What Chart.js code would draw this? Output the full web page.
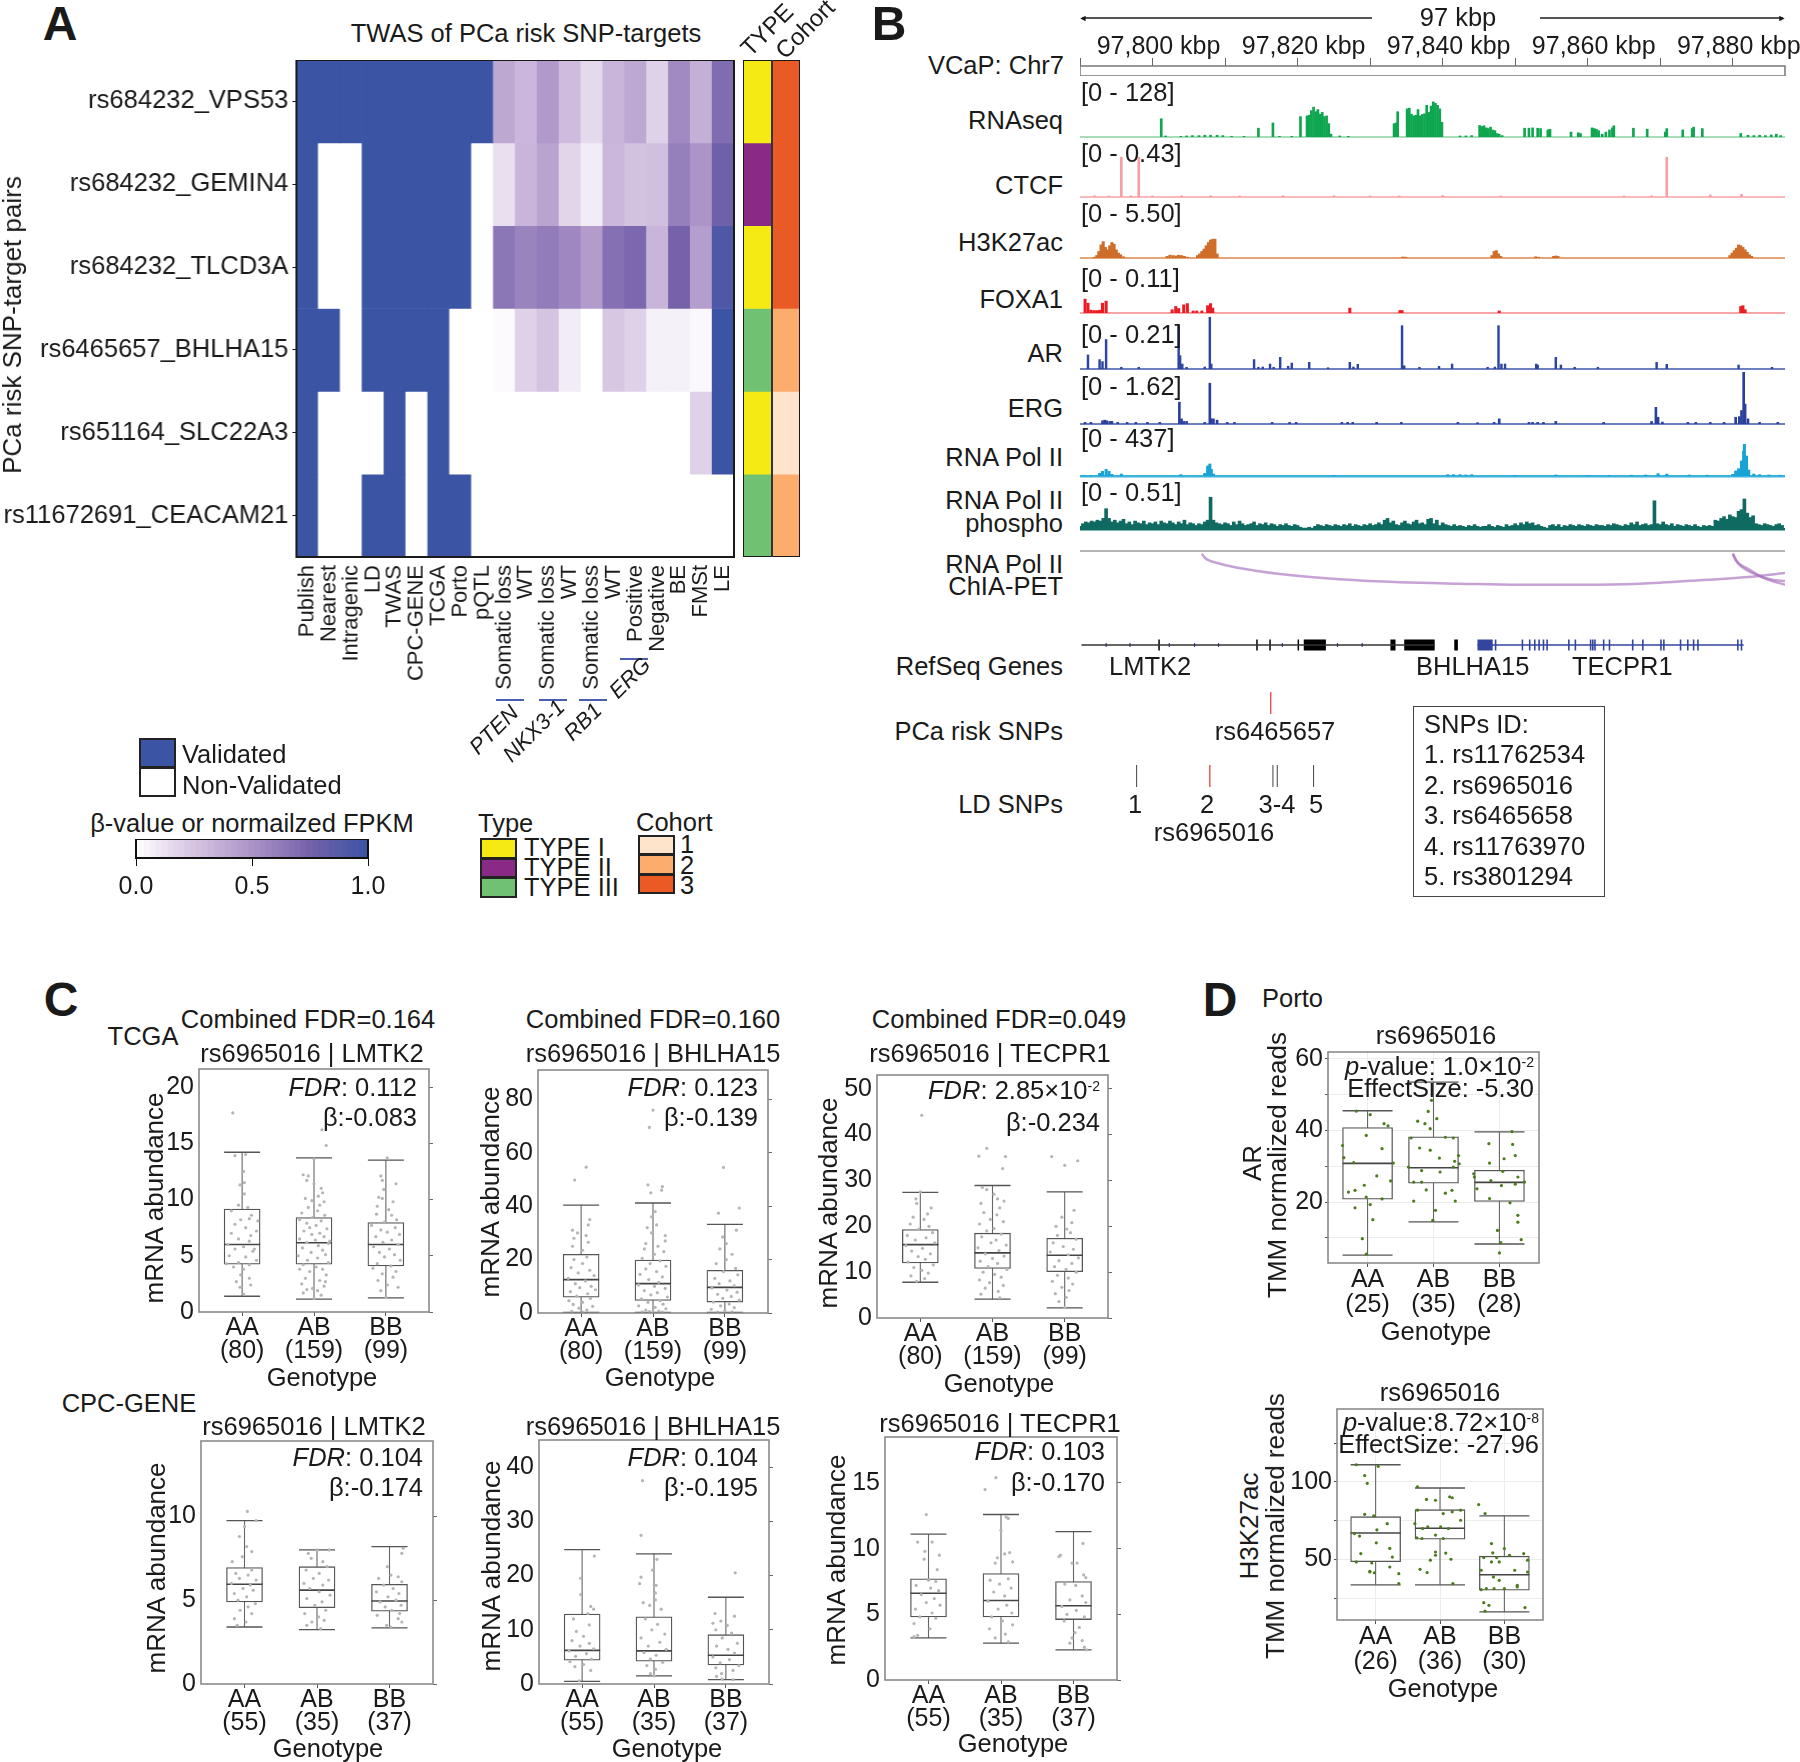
<!DOCTYPE html>
<html><head><meta charset="utf-8">
<script src="https://cdn.jsdelivr.net/npm/chart.js@4"></script>
<style>
html,body{margin:0;padding:0;background:#fff}
#stage{position:relative;width:1800px;height:1762px;overflow:hidden;font-family:"Liberation Sans",Arial,sans-serif;color:#1a1a1a}
#stage canvas{position:absolute}
.t{position:absolute;white-space:nowrap;line-height:1}
.t sup{font-size:.55em;vertical-align:.6em;line-height:0}
.r{position:absolute}
</style></head><body><div id="stage"></div>
<script>
/* ---------- Panel A data ---------- */
const heatRows=['rs684232_VPS53','rs684232_GEMIN4','rs684232_TLCD3A','rs6465657_BHLHA15','rs651164_SLC22A3','rs11672691_CEACAM21'];
const heatCols=['Publish','Nearest','Intragenic','LD','TWAS','CPC-GENE','TCGA','Porto','pQTL','Somatic loss','WT','Somatic loss','WT','Somatic loss','WT','Positive','Negative','BE','FMSt','LE'];
const heatVPS53=[1,1,1,1,1,1,1,1,1,.4,.32,.47,.3,.16,.33,.4,.2,.55,.36,.7];
const heatGEMIN4=[1,0,0,1,1,1,1,1,0,.14,.33,.42,.18,.08,.32,.27,.28,.6,.5,.78];
const heatTLCD3A=[1,0,0,1,1,1,1,1,0,.65,.58,.62,.56,.46,.68,.72,.33,.75,.45,.92];
const heatBHLHA15=[1,1,0,1,1,1,1,0,0,.02,.2,.26,.08,0,.24,.2,.06,.06,.03,1];
const heatSLC22A3=[1,0,0,0,1,0,1,0,0,0,0,0,0,0,0,0,0,0,.2,1];
const heatCEACAM21=[1,0,0,1,1,0,1,1,0,0,0,0,0,0,0,0,0,0,0,0];
const sideCols=['TYPE','Cohort'];
const typeRows=[1,2,1,3,1,3];
const cohortRows=[3,3,3,2,1,2];
const typeColors=['#f5ea14','#8a2a87','#70c172'];
const cohortColors=['#fde4cb','#fcac6d','#ea5a24'];
const colorbarTicks=[0,.5,1];
/* ---------- Panel B data: [kb after 97,700, signal] ---------- */
const rnaseqTrack=[[101.2,52],[101.8,3],[103.9,2],[104.7,3],[105.5,4],[106.4,4],[107.2,5],[108,5],[108.9,5],[109.7,4],[110.9,2],[112.6,2],[114.6,25],[116.6,40],[117.5,2],[119.2,2],[120.4,58],[121.3,60],[121.6,62],[121.9,75],[122.2,85],[122.5,72],[122.8,78],[123.1,65],[123.4,70],[123.7,58],[124,60],[124.3,38],[124.6,8],[125.8,3],[127,2],[133.3,38],[133.6,40],[133.8,72],[135.1,80],[135.4,82],[135.7,65],[136,60],[136.3,62],[136.6,78],[136.9,60],[137.2,64],[137.5,66],[137.8,90],[138.1,70],[138.4,88],[138.7,100],[139,96],[139.3,90],[139.6,80],[139.9,42],[142.4,3],[143.2,3],[144,4],[145.1,33],[145.4,30],[145.7,32],[146,26],[146.3,24],[146.6,28],[146.9,20],[147.2,18],[147.5,10],[147.8,8],[148.2,4],[151.3,25],[151.9,25],[152.4,26],[153.1,25],[153.5,24],[154.5,20],[154.8,22],[157.7,14],[158.7,12],[159,10],[160.6,26],[160.9,24],[161.2,22],[161.5,18],[162,8],[162.5,14],[163,20],[163.4,26],[163.6,32],[166.3,25],[168.2,22],[170.7,14],[170.9,24],[173.1,20],[174.4,24],[174.6,28],[175.8,24],[181.1,10],[182.1,5],[182.9,4],[183.7,5],[184.5,4],[185.3,6],[186,8],[186.6,4]];
const ctcfTrack=[[92,.012],[94,.01],[95.7,.38],[97,.012],[98.1,.38],[100,.01],[104,.012],[108,.012],[112,.01],[118,.012],[125,.012],[130,.01],[134,.01],[140,.014],[148,.01],[165,.01],[168.8,.012],[170.9,.38],[176.9,.02],[181.2,.025]];
const h3k27acTrack=[[92,.1],[92.3,.3],[92.6,.8],[92.9,1.6],[93.2,2],[93.5,1.3],[93.8,1],[94.1,1.5],[94.4,1.9],[94.7,1.7],[95,1],[95.3,.6],[95.6,.4],[96,.15],[102,.2],[102.4,.35],[102.8,.3],[103.2,.25],[103.6,.35],[104,.3],[104.4,.2],[104.8,.1],[106.2,.3],[106.5,.5],[106.8,.8],[107.1,1.1],[107.4,1.5],[107.7,1.9],[108,2.2],[108.3,2.3],[108.6,2.3],[108.9,.5],[134.5,.12],[134.9,.1],[146.8,.3],[147.1,.8],[147.4,.9],[147.7,.5],[148,.2],[152.8,.15],[153.2,.1],[155.3,.2],[155.6,.25],[155.9,.2],[179.6,.3],[179.9,.6],[180.2,.9],[180.5,1.2],[180.8,1.6],[181.1,1.5],[181.4,1.3],[181.7,1],[182,.7],[182.3,.4],[182.6,.2]];
const foxa1Track=[[90.7,.034],[91.1,.024],[91.5,.007],[91.9,.006],[92.3,.006],[92.7,.007],[93.1,.024],[93.6,.029],[102.7,.008],[103.2,.016],[103.6,.011],[104.3,.02],[104.8,.023],[105.6,.005],[106.1,.005],[106.8,.005],[107.6,.018],[108,.023],[108.3,.012],[127.2,.012],[134.1,.006],[134.4,.006],[147.8,.005],[181.1,.016],[181.4,.018],[181.7,.008]];
const arTrack=[[91.1,.057],[92.7,.038],[93.1,.03],[93.6,.119],[95.7,.007],[98.1,.007],[103.6,.175],[103.8,.054],[104.1,.02],[104.7,.007],[107.2,.008],[107.9,.21],[108.1,.02],[114,.038],[114.6,.007],[115.2,.008],[116.2,.02],[116.7,.007],[117.6,.047],[118.7,.011],[119.2,.024],[121.6,.027],[124.2,.005],[127.2,.027],[127.7,.008],[128.3,.019],[134.4,.175],[134.7,.013],[136.8,.007],[139.5,.011],[141.3,.02],[146.2,.007],[147.2,.008],[147.7,.175],[148.1,.02],[148.6,.02],[152.9,.02],[153.1,.016],[155.6,.047],[156.3,.016],[158.2,.007],[161.4,.007],[169.5,.027],[170.9,.019],[180.8,.016],[185.4,.007]];
const ergTrack=[[90.7,.05],[91.5,.05],[93.1,.1],[93.4,.12],[93.7,.1],[94.1,.08],[94.4,.08],[95.2,.05],[96.5,.05],[97.7,.05],[99.3,.05],[101,.05],[103.7,.68],[104,.16],[104.3,.08],[104.7,.08],[107.2,.05],[107.9,1.27],[108.1,.16],[108.4,.16],[108.9,.12],[110.3,.05],[111.3,.05],[116.5,.05],[118.9,.05],[119.8,.05],[126.1,.05],[126.9,.05],[127.6,.05],[130.9,.05],[134.3,.05],[142.1,.05],[144.8,.04],[147.1,.05],[147.8,.16],[151.9,.05],[152.4,.05],[153.1,.05],[153.9,.05],[155.6,.08],[162.2,.05],[168.8,.08],[169.4,.52],[169.7,.21],[170.3,.06],[173.8,.05],[174.9,.05],[176.9,.05],[178.8,.05],[180.4,.21],[180.9,.23],[181.2,.42],[181.5,1.62],[181.7,.62],[182.1,.16],[183.7,.05],[186.2,.05]];
const polIITrack=[[90.5,6],[91.5,6],[92.7,26],[93.1,45],[93.6,65],[94,45],[94.4,16],[95.7,19],[103.9,13],[107.2,26],[107.6,97],[107.9,117],[108.1,65],[108.4,19],[125,6],[140.7,13],[141.5,13],[142.4,13],[143.2,10],[144,13],[150,6],[155.6,10],[160,6],[163,6],[166,8],[168,10],[169.7,23],[170.9,19],[174,10],[176.5,8],[180,16],[180.4,49],[180.8,71],[181.2,146],[181.5,243],[181.6,308],[181.9,194],[182.2,58],[182.9,19],[183.7,13],[185,10],[186.5,8]];
const phosphoTrack=[.03,.06,.08,.07,.09,.08,.1,.09,.12,.23,.12,.08,.1,.07,.09,.11,.06,.08,.05,.09,.07,.06,.09,.05,.07,.06,.08,.05,.09,.07,.06,.09,.07,.05,.08,.06,.1,.05,.07,.06,.04,.06,.05,.08,.1,.36,.1,.07,.06,.05,.07,.06,.04,.08,.05,.09,.06,.04,.05,.06,.08,.04,.06,.05,.07,.04,.06,.05,.03,.05,.04,.06,.04,.03,.05,.04,.02,.01,.01,.02,.01,.03,.05,.04,.03,.05,.04,.03,.05,.04,.03,.05,.04,.06,.03,.05,.04,.03,.05,.04,.06,.04,.05,.07,.05,.1,.12,.07,.09,.05,.04,.07,.09,.06,.05,.08,.1,.06,.07,.05,.11,.12,.06,.1,.04,.07,.05,.04,.03,.05,.03,.04,.03,.02,.04,.03,.05,.03,.02,.03,.03,.05,.03,.02,.04,.03,.02,.05,.03,.04,.06,.04,.07,.05,.08,.06,.07,.04,.05,.03,.02,.01,.04,.05,.03,.05,.02,.04,.03,.05,.04,.03,.05,.04,.03,.05,.04,.03,.05,.04,.04,.03,.05,.04,.06,.05,.04,.03,.05,.04,.07,.05,.08,.04,.05,.06,.04,.05,.32,.06,.05,.08,.05,.04,.06,.03,.05,.04,.03,.05,.04,.03,.05,.03,.02,.04,.03,.04,.03,.1,.09,.12,.14,.11,.16,.14,.13,.2,.22,.34,.18,.13,.15,.06,.05,.04,.06,.05,.04,.03,.05,.06,.04];
const chiaArcA=[[106.8,2.7],[107.2,6.7],[109.3,12.7],[113.4,18.7],[119.2,24.3],[125.8,28.3],[134.1,31.3],[142.4,32.7],[150.6,33.7],[158.9,33.7],[167.2,32.7],[175.4,29.3],[182.1,26],[187.2,22]];
const chiaArcB=[[180,2.7],[180.4,9.3],[182.1,17.7],[184.5,27.7],[187.2,33.7]];
const chiaArcC=[[180,2.7],[180.8,12.7],[182.9,22.7],[185.4,28.7],[187.2,30]];
const lmtk2Span=[90.2,138.9];
const lmtk2Thin=[100.9,114.4,116.2,120.1];
const lmtk2Wide=[[120.85,123.9],[132.8,133.5],[134.7,138.9],[141.6,142.1]];
const lmtk2Chevrons=[93.6,96.9,102.3,105.8,109.1,117.9,125.5,128.9];
const tecpr1Span=[144.8,181.5];
const tecpr1Thin=[147.3,151,152,152.7,153.3,153.9,154.4,157.4,158.3,160.4,160.7,161,162.2,163,166.2,167.6,170.1,170.5,172.8,173.8,174.6,175.2,180.7,181.2];
const tecpr1Wide=[[144.8,146.9]];
const riskSnp=[116.3];
const ldSnpGrey=[97.8,116.6,117.2,122.2];
const ldSnpRed=[107.9];
/* ---------- Panels C/D data ---------- */
const genotypes=['AA','AB','BB'];
const tcgaCounts=[80,159,99], cpcCounts=[55,35,37], portoArCounts=[25,35,28], portoH3Counts=[26,36,30];
/* each box: [low whisker, q1, median, q3, high whisker] */
const c1Stats=[[1.4,4.25,6,9.15,14.2],[1.15,4.25,6.15,8.4,13.7],[1.25,4.1,6,7.95,13.5]];
const c2Stats=[[.2,5.9,12.5,22,40.4],[.2,4.7,11,19.8,41.2],[.2,4.1,9.6,16,33.2]];
const c3Stats=[[7.8,12,16,19.3,27.4],[4.1,10.8,14.2,18.5,28.9],[2.2,10.1,13.7,17.4,27.5]];
const c4Stats=[[3.4,4.9,5.95,6.95,9.75],[3.25,4.55,5.6,7,8],[3.35,4.35,4.95,5.95,8.2]];
const c5Stats=[[.5,4.4,6.2,12.9,24.8],[1.5,4.2,6.1,12.4,24],[.8,3.5,5.3,9.1,16]];
const c6Stats=[[3.2,4.8,6.6,7.7,11.1],[2.8,4.8,6.05,8.1,12.6],[2.3,4.6,5.65,7.5,11.3]];
const d1Stats=[[5.2,20.8,30.8,40.8,45.5],[14.5,25.3,29.6,38.2,53.5],[8.3,20.2,25.5,28.9,39.6]];
const d2Stats=[[33.5,48.5,67,77.5,111],[33.5,63,70,82,96],[16,30,40,52,78]];
/* jitter points: [offset from box centre, value] */
const c1AA=[[-.13,17.7],[-.1,13.9],[.05,14],[.02,12.5],[.03,11.5],[-.03,11.3],[.03,10.5],[-.05,9.5],[.13,8.6],[.1,8.3],[-.02,8.2],[-.1,7.8],[.05,7.5],[.2,7.2],[-.15,7],[.12,6.8],[-.05,6.5],[.1,6.3],[-.2,6],[.02,5.8],[-.1,5.6],[.15,5.4],[-.18,5],[.05,4.9],[.2,4.6],[-.05,4.4],[.1,4.2],[-.12,4],[.02,3.8],[-.02,3.3],[.1,3],[-.08,2.7],[.12,2.4],[-.03,2.2],[.02,1.6],[-.15,9],[.17,5.6],[-.22,4.3],[.22,8.1],[.08,9.3]];
const c1AB=[[.11,16.2],[.17,14.8],[0,13.6],[-.15,12.2],[-.08,12.1],[-.1,11.7],[0,11.4],[.1,11],[.12,10.6],[.06,10.3],[-.12,10.1],[-.03,9.9],[.14,9.8],[.08,9.5],[-.08,9.3],[.05,9],[-.17,8.8],[.15,8.6],[-.02,8.4],[-.2,8.2],[.1,8.1],[-.1,7.9],[.03,7.7],[-.06,7.5],[.18,7.4],[-.14,7.2],[.08,7],[-.03,6.9],[.14,6.7],[-.2,6.5],[.02,6.4],[-.1,6.2],[.2,6.1],[.06,5.9],[-.16,5.7],[.12,5.5],[-.04,5.3],[.16,5.1],[-.22,5],[.05,4.8],[-.09,4.6],[.2,4.4],[-.15,4.2],[.03,4],[.12,3.8],[-.06,3.6],[.17,3.3],[-.12,3],[.08,2.8],[-.17,2.5],[.14,2.3],[-.02,2.1],[.05,1.9],[-.15,1.7],[.1,1.5],[0,1.2],[-.1,2],[.16,2.7],[-.2,3.8],[.22,6.3]];
const c1BB=[[.02,13.7],[-.07,12.1],[-.05,11.7],[.14,11.4],[-.03,10.9],[-.1,10.2],[-.05,10.1],[.1,9.8],[-.12,9.4],[.04,9.1],[-.13,8.7],[.08,8.6],[.15,8.2],[-.02,8],[-.2,7.7],[.13,7.5],[-.07,7.3],[.02,7.1],[.19,6.9],[-.14,6.7],[.08,6.4],[-.04,6.2],[.17,6],[-.17,5.8],[.05,5.6],[-.09,5.3],[.12,5.1],[-.02,4.9],[.2,4.6],[-.12,4.3],[.07,4.1],[-.18,3.9],[.14,3.6],[-.05,3.4],[.1,3.1],[-.11,2.8],[.02,2.4],[.17,2.2],[-.07,1.9],[0,1.3]];
const c2AA=[[.07,54.6],[-.09,49.8],[.12,35],[.1,33],[-.12,31],[-.05,30],[.07,29],[-.1,28],[.1,26.5],[-.12,25],[.02,23.5],[.08,21],[-.1,20],[.02,18.5],[-.14,17],[.12,16],[-.04,15],[.18,14],[-.18,13],[.06,12],[-.08,11],[.14,10],[-.02,9.5],[.2,8.7],[-.15,8],[.09,7.2],[-.06,6.3],[.13,5.5],[-.17,4.6],[.02,4],[-.11,3.2],[.16,2.5],[-.03,1.8],[.08,1.1],[-.13,.6],[.02,.3]];
const c2AB=[[0,76],[-.05,69.5],[-.07,48],[.13,47.3],[.12,46],[-.03,45],[.03,38],[-.02,36],[.05,33],[-.08,32],[-.02,30],[.17,29],[.17,27],[-.1,26],[.07,25],[-.12,24],[.15,23],[.02,22],[-.15,20.5],[.1,19.5],[-.04,18.5],[.18,17.5],[-.1,16.5],[.05,15.5],[-.18,14.5],[.13,13.5],[-.06,12.5],[.08,11.5],[-.2,10.5],[.02,10],[.17,9.2],[-.12,8.4],[.06,7.6],[-.03,6.8],[.2,6],[-.16,5.3],[.1,4.6],[-.07,4],[.14,3.3],[-.2,2.7],[.03,2.1],[.18,1.6],[-.1,1.1],[.08,.7],[-.15,.4],[0,.2],[.13,.3],[-.05,.5]];
const c2BB=[[-.02,54.5],[.2,39.3],[-.09,37.4],[.16,31],[-.03,28.5],[.02,26],[-.07,24],[.1,22],[.02,20],[-.12,18.5],[.15,16.7],[-.02,15.5],[.18,14.3],[-.14,13],[.07,12],[-.08,11],[.13,10.2],[-.18,9.4],[.03,8.6],[.17,7.8],[-.1,7],[.09,6.2],[-.03,5.5],[.2,4.8],[-.16,4.1],[.06,3.4],[-.06,2.7],[.13,2],[-.19,1.4],[0,.9],[.1,.4],[-.1,.3]];
const c3AA=[[.02,44.2],[0,27.5],[-.06,26],[-.05,25],[.15,24],[.1,22.7],[-.1,22],[.05,21.5],[-.14,20.5],[.12,20],[-.02,19.4],[.17,18.6],[-.18,18],[.08,17.5],[-.07,17],[.2,16.4],[-.2,15.8],[.03,15.2],[-.12,14.6],[.14,14],[-.03,13.4],[.07,12.8],[-.17,12.2],[.18,11.6],[-.09,11],[.02,10.4],[.11,9.8],[-.13,9.2],[.06,8.6],[-.05,8]];
const c3AB=[[-.08,37],[-.19,35.3],[.18,35.2],[.14,32.6],[-.14,28.5],[-.08,28],[.02,27],[.07,26],[.16,25.5],[-.16,25],[.1,24],[-.12,23],[.06,22.5],[-.03,21.5],[.15,21],[-.18,20.5],[.02,19.5],[-.08,19],[.12,18.3],[-.15,17.7],[.05,17],[-.02,16.4],[.19,15.9],[-.2,15.3],[.09,14.7],[-.1,14],[.16,13.5],[0,13],[-.17,12.4],[.07,11.9],[-.06,11.2],[.2,10.6],[-.13,10],[.03,9.5],[.12,8.9],[-.18,8.3],[-.04,7.7],[.15,7.1],[-.1,6.5],[.08,5.8],[-.16,5.2],[.1,4.4]];
const c3BB=[[-.18,35.2],[0,33.3],[.18,34.3],[.13,23.5],[-.04,22],[.1,20.8],[-.12,20],[.03,19.4],[.08,18.6],[-.1,18],[.16,17.2],[-.16,16.4],[-.02,15.6],[.12,15],[-.2,14.4],[.05,13.8],[.19,13.1],[-.08,12.5],[.1,11.9],[-.14,11.2],[.02,10.6],[.16,10],[-.1,9.3],[.05,8.7],[-.17,8],[.11,7.4],[-.04,6.7],[.06,6],[-.13,5.3],[.02,4.5],[-.08,3.6],[0,2.3]];
const c4AA=[[.04,10.3],[.0,9.4],[.16,9.75],[-.07,8.8],[.03,8.2],[.1,7.9],[-.03,7.6],[-.17,7.3],[.1,6.8],[-.12,6.6],[.05,6.5],[-.07,6.3],[.16,6.2],[-.18,6],[.08,5.9],[-.02,5.7],[.12,5.6],[-.14,5.4],[.03,5.2],[-.09,5],[.15,4.8],[.05,4.6],[-.06,4.4],[.1,4.2],[-.14,3.9],[.02,3.7],[-.1,3.5]];
const c4AB=[[.0,8],[.17,8],[-.12,7.8],[-.08,7.5],[.08,7.3],[.14,7],[-.15,6.8],[.03,6.6],[-.05,6.3],[.16,6.2],[-.18,6],[.08,5.9],[-.1,5.7],[.03,5.5],[.18,5.3],[-.14,5.1],[.07,4.9],[-.03,4.7],[.12,4.4],[-.17,4.2],[.02,4],[.1,3.8],[-.07,3.7],[-.14,3.5],[.05,3.3]];
const c4BB=[[.19,8.1],[.17,7.8],[-.03,7],[.02,6.5],[.12,6.4],[-.15,6.3],[.17,6.1],[-.08,5.9],[.05,5.7],[-.18,5.5],[.13,5.4],[-.02,5.2],[.09,5],[-.13,4.9],[.16,4.7],[-.06,4.6],[.03,4.4],[.14,4.2],[-.17,4.1],[.12,3.9],[.17,3.7],[-.04,3.5],[.02,3.4]];
const c5AA=[[-.02,19.5],[-.02,16.5],[.17,23.6],[.12,14.3],[.16,13.8],[.08,13],[-.12,12],[.1,10.9],[-.08,9.7],[.02,8.8],[-.14,8],[.1,7.5],[-.03,7],[.16,6.5],[-.18,6.1],[.06,5.6],[-.09,5.1],[.13,4.6],[-.17,4.1],[.02,3.6],[-.1,3.2],[.12,2.5],[-.04,.6]];
const c5AB=[[-.16,37.5],[-.18,27.4],[.04,23],[-.02,21],[-.18,19.7],[-.2,18.5],[.03,18.2],[.02,16.8],[.02,15.5],[-.15,15],[-.06,14.5],[.1,13.8],[-.12,12],[.05,11],[-.03,10],[.15,9.2],[-.18,8.5],[.08,7.7],[-.08,7],[.17,6.4],[-.14,5.8],[.03,5.3],[-.05,4.6],[.12,4],[-.1,3.4],[.02,2.7],[-.05,1.9],[0,1.5]];
const c5BB=[[.13,20.5],[.12,12.5],[-.15,13],[-.07,11.6],[-.18,11.2],[.02,10.8],[-.14,10],[.08,9.4],[-.05,8.5],[.16,7.5],[-.13,7],[.03,6.4],[.12,5.7],[-.18,5],[.05,4.5],[-.08,3.9],[.18,3.4],[-.14,3],[.1,2.5],[-.06,1.9],[-.13,1.4],[-.05,.9],[.1,.8]];
const c6AA=[[-.03,12.6],[-.15,10.5],[.05,10.5],[-.05,9.8],[.15,9.5],[-.06,9.2],[.12,8.4],[.0,7.6],[.1,7.5],[-.17,7.2],[.03,7],[.14,6.8],[-.1,6.5],[.08,6.2],[-.03,5.9],[.16,5.7],[-.18,5.4],[.05,5.1],[-.12,4.8],[.1,4.7],[-.2,4.3],[.02,3.9],[-.15,3.4],[-.2,3.3]];
const c6AB=[[-.07,15.4],[-.22,14.5],[.07,12.4],[.1,12.3],[.0,11.4],[.12,9.7],[.05,9.6],[-.05,9.3],[.16,9],[-.08,8.9],[.1,7.7],[-.15,7.6],[-.02,7.3],[.14,7],[-.1,6.7],[.05,6.4],[-.18,6],[.08,5.7],[-.04,5.4],[.15,5.1],[-.13,4.8],[.02,4.5],[.16,4.2],[-.16,3.9],[.06,3.5],[-.08,3.2],[.1,2.9]];
const c6BB=[[-.18,9.5],[-.2,9.4],[-.02,8.9],[.05,8.9],[.13,10.4],[.14,8],[.17,7.8],[-.12,7.3],[.03,7.2],[.12,6.4],[-.05,6.1],[.17,5.9],[-.16,5.6],[.04,5.3],[-.09,5],[.15,4.8],[-.13,4.5],[.08,4],[.02,3.6],[-.02,3.2],[.12,3],[-.05,2.8],[.15,2.5],[.18,2.3]];
const d1AA=[[-.17,45.4],[.04,44.4],[.25,41.9],[.31,41.3],[-.02,38.6],[-.38,35.8],[.22,34.9],[-.36,32.4],[-.21,31],[.39,30.9],[.14,27.3],[.35,25.9],[-.05,24.7],[-.19,23.3],[-.29,22.8],[-.02,21.4],[.22,20.9],[-.19,18.4],[.04,19.3],[.08,15.1],[-.08,9.8],[-.02,5.5]];
const d1AB=[[-.24,42.6],[-.08,45.3],[-.13,41.9],[-.05,40.5],[.05,43.3],[-.03,48.4],[-.34,37.9],[.18,38.1],[.3,37.9],[-.21,35.1],[-.05,34.5],[.09,32.3],[.38,33],[.32,31.4],[-.38,29.8],[-.18,28.8],[.1,28.4],[.39,30.7],[.3,29.8],[-.3,25.6],[-.18,25.6],[-.11,23.4],[.18,22.5],[.28,23.3],[.33,20.3],[-.3,20.3],[.03,17.7],[-.01,14.9]];
const d1BB=[[.19,39.7],[-.16,36.3],[.2,36.1],[.24,33],[-.15,30.9],[.07,32.1],[-.39,27.9],[-.38,27],[.05,28.6],[.28,27],[-.13,26],[.03,24.6],[.24,25],[.38,25.6],[-.34,23.7],[-.15,21],[.16,19.8],[.28,16.3],[.28,14.4],[-.03,12.1],[.33,9.5],[.02,8.7],[0,5.8]];
const d2AA=[[-.3,111],[.04,110],[-.17,104],[-.13,99],[-.03,78],[-.17,79],[.18,73],[.02,69],[-.25,65],[.01,60.6],[.22,57],[-.23,53.7],[.26,51.4],[-.3,48.3],[-.06,47.6],[.22,45],[-.09,42.2],[-.02,41.3],[.36,40.7],[.36,34.3],[-.09,41.8],[-.33,66.6]];
const d2AB=[[-.35,96.8],[-.21,88.6],[-.07,88.1],[.15,90.3],[.19,89.7],[-.35,81.7],[.05,79.5],[.19,80.6],[.32,81.7],[-.39,73],[-.27,69.8],[-.19,70.9],[.01,70.9],[.13,69.8],[.32,75.2],[-.07,65.6],[.05,63.4],[-.36,63.9],[-.28,63.4],[.09,54],[-.15,49.4],[-.07,52.6],[.17,50],[-.31,43.5],[-.2,41.4],[.2,34.3],[-.07,54.7]];
const d2BB=[[-.4,85.3],[-.3,79.5],[-.2,60.1],[0,56.9],[-.18,54.1],[-.32,51.1],[-.12,51.1],[.08,52.6],[.3,53.7],[-.2,48.3],[-.08,48.3],[.36,49.4],[-.36,42.9],[.16,42.9],[-.17,38.6],[-.08,36.4],[.2,33.2],[-.28,31],[-.16,31],[0,31],[-.36,30.4],[-.32,22],[-.24,20.3],[.32,18.8],[-.3,16.5],[.2,32.1],[.36,41.8]];

/* ---------- helpers ---------- */
const FONT='"Liberation Sans",Arial,sans-serif';
const stage=document.getElementById('stage');
Chart.defaults.font.family=FONT; Chart.defaults.color='#1a1a1a';
Chart.defaults.animation=false; Chart.defaults.devicePixelRatio=1;
Chart.register({id:'frame',afterDatasetsDraw(c,a,o){if(!o.color)return;const r=c.chartArea,x=c.ctx;x.save();x.strokeStyle=o.color;x.lineWidth=o.width||1.5;x.strokeRect(r.left,r.top,r.width,r.height);x.restore();}});
/* fixes an axis' thickness and drops the label overhang padding */
const fit=(prop,val)=>a=>{a[prop]=val;a.paddingTop=a.paddingBottom=a.paddingLeft=a.paddingRight=0;};
function T(s,x,y,o={}){const d=document.createElement('div');d.className='t';d.innerHTML=s;
 const a=o.a||'c',tx=a==='l'?'0':a==='r'?'-100%':'-50%';
 d.style.cssText=`left:${x}px;top:${y+1}px;font-size:${o.s||25.5}px;font-weight:${o.b?'bold':'normal'};font-style:${o.i?'italic':'normal'};transform:translate(${tx},-50%) rotate(${o.r||0}deg)`;
 stage.appendChild(d);}
function R(x,y,w,h,st){const d=document.createElement('div');d.className='r';d.style.cssText=`left:${x}px;top:${y}px;width:${w}px;height:${h}px;box-sizing:border-box;${st||''}`;stage.appendChild(d);}
function place(px,py,pw,ph,m,cfg){const c=document.createElement('canvas');const W=m.l+pw+(m.r||0),H=(m.t||0)+ph+m.b;
 c.width=W;c.height=H;c.style.left=(px-m.l)+'px';c.style.top=(py-(m.t||0))+'px';c.style.width=W+'px';c.style.height=H+'px';stage.appendChild(c);
 cfg.options=Object.assign({responsive:false,maintainAspectRatio:false,layout:{autoPadding:false,padding:{top:m.pt||0,right:m.pr||0,left:m.pl||0,bottom:m.pb||0}}},cfg.options||{});
 cfg.options.plugins=Object.assign({legend:{display:false},tooltip:{enabled:false},title:{display:false}},cfg.options.plugins||{});
 return new Chart(c,cfg);}
const lerp=(a,b,t)=>Math.round(a+(b-a)*t);
const cmapStops=[[0,[255,255,255]],[.25,[214,197,226]],[.5,[172,148,200]],[.75,[117,98,170]],[1,[59,84,164]]];
function cmap(v){for(let i=1;i<cmapStops.length;i++){if(v<=cmapStops[i][0]){const [a,ca]=cmapStops[i-1],[b,cb]=cmapStops[i],t=(v-a)/(b-a);return `rgb(${lerp(ca[0],cb[0],t)},${lerp(ca[1],cb[1],t)},${lerp(ca[2],cb[2],t)})`;}}return 'rgb(59,84,164)';}

/* ---------- Panel A ---------- */
const heatMatrix=[heatVPS53,heatGEMIN4,heatTLCD3A,heatBHLHA15,heatSLC22A3,heatCEACAM21];
place(296,60,437.5,497,{l:296,r:2,b:190,pr:2},{type:'bar',data:{labels:heatCols,datasets:heatMatrix.map(r=>({data:r.map(()=>1),backgroundColor:r.map(cmap),borderWidth:0,barPercentage:1,categoryPercentage:1,stack:'s'}))},
 options:{plugins:{frame:{color:'#1a1a1a',width:2}},scales:{
  x:{stacked:true,grid:{display:false},border:{display:false},afterFit:fit('height',190),ticks:{autoSkip:false,minRotation:90,maxRotation:90,padding:0,font:{size:22},color:'#1a1a1a'}},
  y:{stacked:true,reverse:true,min:0,max:6,afterFit:fit('width',296),afterBuildTicks(a){a.ticks=heatRows.map((_,i)=>({value:i+.5}));},grid:{drawOnChartArea:false,tickLength:4,color:'#1a1a1a'},border:{display:false},ticks:{autoSkip:false,padding:4,font:{size:25.5},color:'#1a1a1a',callback:v=>heatRows[Math.floor(v)]}}}}});
place(743,60,57,497,{l:0,b:0},{type:'bar',data:{labels:sideCols,datasets:typeRows.map((t,i)=>({data:[1,1],backgroundColor:[typeColors[t-1],cohortColors[cohortRows[i]-1]],borderWidth:0,barPercentage:1,categoryPercentage:1,stack:'s'}))},
 options:{plugins:{frame:{color:'#1a1a1a',width:2}},scales:{x:{stacked:true,display:false},y:{stacked:true,reverse:true,min:0,max:6,display:false}}}});
R(771,60,1.5,497,'background:#333');
T('A',60,23,{s:48,b:1});
T('TWAS of PCa risk SNP-targets',526,33);
T('TYPE',767,29,{s:24,r:-45});T('Cohort',805,28,{s:24,r:-45});
T('PCa risk SNP-target pairs',12,324,{s:26,r:-90});
[[496,699],[539,699],[579,699],[620,658]].forEach(p=>R(p[0],p[1],28,2,'background:#4a5fb0'));
T('PTEN',494,729,{s:22,i:1,r:-45});T('NKX3-1',534,730,{s:22,i:1,r:-45});T('RB1',583,721,{s:22,i:1,r:-45});T('ERG',630,677,{s:22,i:1,r:-45});
R(139,738,37,30,'background:#3b54a4;border:2px solid #222');R(139,767,37,30,'background:#fff;border:2px solid #222');
T('Validated',182,754,{a:'l'});T('Non-Validated',182,785,{a:'l'});
T('β-value or normailzed FPKM',252,823);
const cbStops=Array.from({length:41},(_,i)=>i/40);
place(136,839,232,19,{l:20,r:30,b:48,pl:20,pr:30},{type:'bar',data:{datasets:[{data:cbStops.map(v=>({x:v,y:1})),backgroundColor:cbStops.map(cmap),barThickness:6.5,borderWidth:0}]},
 options:{plugins:{frame:{color:'#111',width:2}},scales:{x:{type:'linear',offset:false,min:0,max:1,afterFit:fit('height',48),afterBuildTicks(a){a.ticks=colorbarTicks.map(v=>({value:v}));},grid:{drawOnChartArea:false,offset:false,tickLength:8,color:'#111'},border:{display:false},ticks:{font:{size:25},padding:6,color:'#1a1a1a',callback:v=>v.toFixed(1)}},y:{min:0,max:1,display:false}}}});
T('Type',478,823,{a:'l'});T('Cohort',636,822,{a:'l'});
typeColors.forEach((c,i)=>R(480,838+i*19.5,37,20.5,`background:${c};border:2px solid #222`));
['TYPE I','TYPE II','TYPE III'].forEach((s,i)=>T(s,524,847+i*20,{a:'l'}));
cohortColors.forEach((c,i)=>R(638,835+i*19.3,37,20.3,`background:${c};border:2px solid #222`));
['1','2','3'].forEach((s,i)=>T(s,680,844+i*20.5,{a:'l'}));

/* ---------- Panel B ---------- */
const kbAxis=(color,width)=>({type:'linear',offset:false,min:90,max:187.2,afterFit:fit('height',2),grid:{display:false},ticks:{display:false},border:{display:!!color,color:color||'#000',width:width||2}});
const hiddenY=(max,min)=>({min:min||0,max,display:false});
function track(base,H,max,color,baseColor,thick,data,bw){
 place(1080,base-H,705,H,{l:0,b:2},{type:'bar',data:{datasets:[{data,backgroundColor:color,barThickness:thick,grouped:false,borderWidth:0}]},
 options:{scales:{x:kbAxis(baseColor,bw||2),y:hiddenY(max)}}});}
const pts=a=>a.map(p=>({x:p[0],y:p[1]}));
track(137,45,128,'#0fa650','#a9dcb8',2,pts(rnaseqTrack));
track(197,45,.43,'#f79fa6','#f9b9bd',2,pts(ctcfTrack));
track(258,45,5.5,'#cf6d2a','#e8a678',2.4,pts(h3k27acTrack));
track(313,45,.11,'#ec1c24','#f7a4a6',2.4,pts(foxa1Track));
track(369,52,.21,'#2b45a0','#6f80c0',1.8,pts(arTrack));
track(424,52,1.62,'#2b3f9e','#6f80c0',2,pts(ergTrack));
track(476,45,437,'#17a3d5','#3cb3dc',2.4,pts(polIITrack),2.5);
track(529,45,.51,'#0f6b62','#0f6b62',3,phosphoTrack.map((v,i)=>({x:90+i*.4,y:v})),2.5);
/* ruler */
const rulerBox=[[90,0],[187.2,0],[187.2,1],[90,1],[90,0]];
place(1080,66,705,8,{l:0,r:15,t:42,b:2,pr:15},{type:'line',data:{datasets:[{data:pts(rulerBox),borderColor:'#777',borderWidth:1.5,pointRadius:0,tension:0,clip:false}]},
 options:{scales:{x:{type:'linear',position:'top',min:90,max:187.2,afterFit:fit('height',42),afterBuildTicks(a){a.ticks=[90,100,110,120,130,140,150,160,170,180].map(v=>({value:v}));},grid:{drawOnChartArea:false,tickLength:8,color:'#666'},border:{display:false},ticks:{autoSkip:false,maxRotation:0,labelOffset:6,padding:-4,font:{size:25},color:'#1a1a1a',callback:v=>(v%20===0&&v>90)?`97,${700+v} kbp`:''}},y:hiddenY(1)}}});
/* ChIA-PET */
const arc=d=>({data:pts(d),borderColor:'rgba(168,112,190,.65)',borderWidth:2.5,pointRadius:0,cubicInterpolationMode:'monotone'});
place(1080,551,705,50,{l:0,t:2,b:0},{type:'line',data:{datasets:[arc(chiaArcA),arc(chiaArcB),arc(chiaArcC)]},
 options:{scales:{x:{type:'linear',position:'top',min:90,max:187.2,afterFit:fit('height',2),grid:{display:false},ticks:{display:false},border:{display:true,color:'#b5b5b5',width:2}},y:{min:0,max:50,reverse:true,display:false}}}});
/* gene & SNP rows */
const GENE_Y=15,RISK_Y=[62,84],LD_Y=[135,157];
const segs=a=>a.flatMap(s=>[{x:s[0],y:GENE_Y},{x:s[1],y:GENE_Y},{x:s[1],y:null}]);
const lineDs=(data,c,w)=>({type:'line',data,borderColor:c,borderWidth:w,pointRadius:0,borderCapStyle:'butt',spanGaps:false,tension:0});
const barDs=(xs,span,c,th)=>({type:'bar',data:xs.map(x=>({x,y:span})),backgroundColor:c,barThickness:th,grouped:false,borderWidth:0,inflateAmount:0});
const GENE_B='#33459f';
place(1080,630,705,165,{l:0,b:0},{data:{datasets:[
 lineDs(segs([lmtk2Span]),'#333',1.3),lineDs(segs(lmtk2Wide),'#000',11),barDs(lmtk2Thin,[9.5,20.5],'#000',1.5),barDs(lmtk2Chevrons,[13,17],GENE_B,1.2),
 lineDs(segs([tecpr1Span]),GENE_B,1.3),lineDs(segs(tecpr1Wide),GENE_B,11),barDs(tecpr1Thin,[9.5,20.5],GENE_B,1.6),
 barDs(riskSnp,RISK_Y,'#ee2d35',1.2),barDs(ldSnpGrey,LD_Y,'#555',1.1),barDs(ldSnpRed,LD_Y,'#ee2d35',1.2)]},
 options:{scales:{x:{type:'linear',offset:false,min:90,max:187.2,display:false},y:{min:0,max:165,reverse:true,display:false}}}});
T('B',889,23,{s:48,b:1});
T('97 kbp',1458,17);
R(1082,17,290,1.5,'background:#555');R(1540,17,243,1.5,'background:#555');
T('◄',1083,17,{s:9});T('►',1782,17,{s:9});
const RX=1063;
[['VCaP: Chr7',65,1064],['RNAseq',120],['CTCF',185],['H3K27ac',242],['FOXA1',299],['AR',353],['ERG',408],['RNA Pol II',457],['RNA Pol II',500],['phospho',523],['RNA Pol II',564],['ChIA-PET',586],['RefSeq Genes',666],['PCa risk SNPs',731],['LD SNPs',804]].forEach(r=>T(r[0],r[2]||RX,r[1],{a:'r'}));
[['[0 - 128]',92],['[0 - 0.43]',153],['[0 - 5.50]',213],['[0 - 0.11]',278],['[0 - 0.21]',334],['[0 - 1.62]',386],['[0 - 437]',438],['[0 - 0.51]',492]].forEach(r=>T(r[0],1081,r[1],{a:'l'}));
T('LMTK2',1109,666,{a:'l'});T('BHLHA15',1416,666,{a:'l'});T('TECPR1',1572,666,{a:'l'});
T('rs6465657',1275,731);T('1',1135,804);T('2',1207,804);T('3-4',1277,804);T('5',1316,804);T('rs6965016',1214,832);
R(1413,706,192,191,'border:1.5px solid #444');
['SNPs ID:','1. rs11762534','2. rs6965016','3. rs6465658','4. rs11763970','5. rs3801294'].forEach((s,i)=>T(s,1424,724+i*30.4,{a:'l'}));

/* ---------- Panels C / D ---------- */
function box(o){
 const {x,y,w,h,min,max,stats,points,counts,ticks}=o;
 const ds=[];
 const mk=(data,extra)=>Object.assign({data,grouped:false},extra);
 stats.forEach((s,i)=>{const g=i+1;
  ds.push(mk([{x:g,y:[s[0],s[4]]}],{type:'bar',barThickness:1.1,inflateAmount:0,backgroundColor:'#666',borderWidth:0,order:9}));
  ds.push(mk([{x:g,y:[s[1],s[3]]}],{type:'bar',barThickness:o.boxW,backgroundColor:'#fff',borderColor:'#555',borderWidth:1.3,borderSkipped:false,order:8}));
  ds.push({type:'scatter',data:[{x:g,y:s[0]},{x:g,y:s[4]}],pointStyle:'line',pointRadius:o.boxW/2,pointBorderColor:'#555',pointBorderWidth:1.3,order:7});
  ds.push({type:'scatter',data:[{x:g,y:s[2]}],pointStyle:'line',pointRadius:o.boxW/2,pointBorderColor:'#444',pointBorderWidth:1.6,order:7});
  ds.push({type:'scatter',data:points[i].map(p=>({x:g+p[0],y:p[1]})),pointRadius:o.ptR,backgroundColor:o.ptC,borderWidth:0,order:o.ptsOver?1:6});
 });
 const lab=v=>[genotypes[v-1],`(${counts[v-1]})`];
 const tickFn=a=>{a.ticks=ticks.map(v=>({value:v}));};
 const scales={
  x:{type:'linear',offset:false,min:.4,max:3.6,afterFit:fit('height',60),afterBuildTicks(a){a.ticks=[1,2,3].map(v=>({value:v}));},grid:{display:true,drawOnChartArea:!!o.grid,offset:false,color:o.grid?'#ececec':'#666',tickColor:'#555',tickLength:4},border:{display:false},ticks:{autoSkip:false,maxRotation:0,padding:1,font:{size:25,lineHeight:o.grid?.98:.92},color:'#1a1a1a',callback:lab}},
  y:{min,max,afterFit:fit('width',62),afterBuildTicks:tickFn,grid:{display:!!o.grid,color:'#ececec',drawTicks:!!o.grid,tickLength:3,tickColor:'#555'},border:{display:false},ticks:{autoSkip:false,padding:o.grid?2:5,font:{size:25},color:'#1a1a1a',callback:v=>(o.minor&&o.minor.includes(v))?'':v}}
 };
 if(!o.grid)scales.y2={position:'right',min,max,afterFit:fit('width',6),afterBuildTicks:tickFn,grid:{drawOnChartArea:false,tickLength:4,color:'#666'},border:{display:false},ticks:{display:false}};
 place(x,y,w,h,{l:62,r:o.grid?2:6,t:14,pt:14,b:60,pr:o.grid?2:0},{data:{datasets:ds},options:{plugins:{frame:{color:'#8a8a8a',width:1.6}},scales}});
}
const cOpts={boxW:36,ptR:1.6,ptC:'#b5b5b5'},dOpts={boxW:50,ptR:1.6,ptC:'#4c7a1c',grid:true,ptsOver:true};
box({...cOpts,x:199,y:1069,w:230,h:243,min:0,max:21.6,ticks:[0,5,10,15,20],stats:c1Stats,points:[c1AA,c1AB,c1BB],counts:tcgaCounts});
box({...cOpts,x:538,y:1070,w:230,h:243,min:0,max:91,ticks:[0,20,40,60,80],stats:c2Stats,points:[c2AA,c2AB,c2BB],counts:tcgaCounts});
box({...cOpts,x:877,y:1075,w:231,h:243,min:0,max:53,ticks:[0,10,20,30,40,50],stats:c3Stats,points:[c3AA,c3AB,c3BB],counts:tcgaCounts});
box({...cOpts,x:201,y:1441,w:232,h:243,min:0,max:14.5,ticks:[0,5,10],stats:c4Stats,points:[c4AA,c4AB,c4BB],counts:cpcCounts});
box({...cOpts,x:539,y:1440,w:230,h:244,min:0,max:45,ticks:[0,10,20,30,40],stats:c5Stats,points:[c5AA,c5AB,c5BB],counts:cpcCounts});
box({...cOpts,x:885,y:1437,w:232,h:243,min:0,max:18.5,ticks:[0,5,10,15],stats:c6Stats,points:[c6AA,c6AB,c6BB],counts:cpcCounts});
box({...dOpts,x:1328,y:1052,w:211,h:211,min:3,max:61.9,ticks:[10,20,30,40,50,60],minor:[10,30,50],stats:d1Stats,points:[d1AA,d1AB,d1BB],counts:portoArCounts});
box({...dOpts,x:1337,y:1409,w:206,h:211,min:10.8,max:147,ticks:[25,50,75,100,125],minor:[25,75,125],stats:d2Stats,points:[d2AA,d2AB,d2BB],counts:portoH3Counts});

T('C',61,999,{s:48,b:1});T('D',1220,999,{s:48,b:1});
T('TCGA',143,1036);T('CPC-GENE',129,1403);T('Porto',1262,998,{a:'l'});
T('Combined FDR=0.164',308,1019);T('rs6965016 | LMTK2',312,1053);
T('Combined FDR=0.160',653,1019);T('rs6965016 | BHLHA15',653,1053);
T('Combined FDR=0.049',999,1019);T('rs6965016 | TECPR1',990,1053);
T('rs6965016 | LMTK2',314,1426);T('rs6965016 | BHLHA15',653,1426);T('rs6965016 | TECPR1',1000,1423);
T('rs6965016',1436,1035);T('rs6965016',1440,1392);
const fdr=(a,b,x,y1,y2)=>{T(`<i>FDR</i>: ${a}`,x,y1,{a:'r'});T(`β:${b}`,x,y2,{a:'r'});};
fdr('0.112','-0.083',417,1087,1117);fdr('0.123','-0.139',758,1087,1117);fdr('2.85×10<sup>-2</sup>','-0.234',1100,1090,1122);
fdr('0.104','-0.174',423,1457,1487);fdr('0.104','-0.195',758,1457,1487);fdr('0.103','-0.170',1105,1451,1482);
T('<i>p</i>-value: 1.0×10<sup>-2</sup>',1534,1066,{a:'r'});T('EffectSize: -5.30',1534,1088,{a:'r'});
T('<i>p</i>-value:8.72×10<sup>-8</sup>',1539,1422,{a:'r'});T('EffectSize: -27.96',1539,1444,{a:'r'});
[[154,1197],[490,1191],[828,1202],[156,1567],[491,1565],[836,1559]].forEach(p=>T('mRNA abundance',p[0],p[1],{s:26,r:-90}));
T('AR',1252,1162,{s:26,r:-90});T('TMM normalized reads',1277,1164,{s:26,r:-90});
T('H3K27ac',1249,1525,{s:26,r:-90});T('TMM normalized reads',1275,1525,{s:26,r:-90});
[[322,1377],[660,1377],[999,1383],[1436,1331],[328,1748],[667,1748],[1013,1743],[1443,1688]].forEach(p=>T('Genotype',p[0],p[1]));
</script></body></html>
